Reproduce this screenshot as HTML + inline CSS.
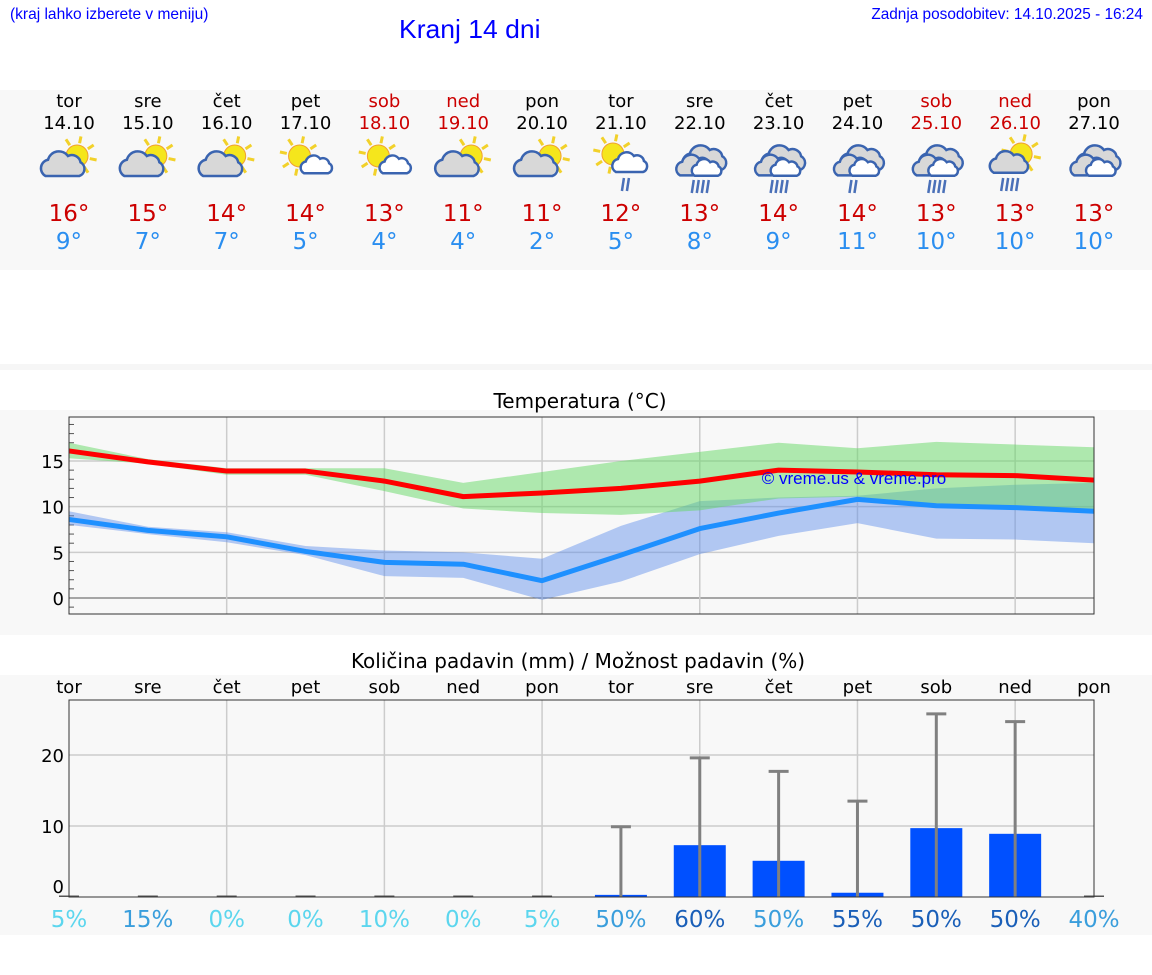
<!DOCTYPE html>
<html><head><meta charset="utf-8">
<style>
body{margin:0;width:1152px;height:975px;background:#fff;overflow:hidden;position:relative;font-family:"DejaVu Sans",sans-serif}
.band{position:absolute;left:0;width:1152px;background:#f8f8f8}
.hdr{font-family:"Liberation Sans",sans-serif;color:#0000ff;position:absolute;white-space:nowrap}
</style></head>
<body>
<div class="hdr" style="left:10px;top:6px;font-size:16px;transform:scaleX(0.97);transform-origin:left">(kraj lahko izberete v meniju)</div>
<div class="hdr" style="left:399px;top:14px;font-size:26px;transform:scaleX(1.02);transform-origin:left">Kranj 14 dni</div>
<div class="hdr" style="right:9px;top:6px;font-size:16px;transform:scaleX(0.96);transform-origin:right">Zadnja posodobitev: 14.10.2025 - 16:24</div>
<div class="band" style="top:90px;height:180px"></div>
<div class="band" style="top:364px;height:6px;background:#f6f6f6"></div>
<div class="band" style="top:410px;height:225px"></div>
<div class="band" style="top:675px;height:260px"></div>
<svg id="svg" width="1152" height="975" style="position:absolute;left:0;top:0"></svg>
<script>
const days=["tor","sre","čet","pet","sob","ned","pon","tor","sre","čet","pet","sob","ned","pon"];
const dates=["14.10","15.10","16.10","17.10","18.10","19.10","20.10","21.10","22.10","23.10","24.10","25.10","26.10","27.10"];
const weekend=[0,0,0,0,1,1,0,0,0,0,0,1,1,0];
const icons=["pc","pc","pc","ms","ms","pc","pc","msr","cr","cr","cr2","cr","pcr","c"];
const maxT=[16,15,14,14,13,11,11,12,13,14,14,13,13,13];
const minT=[9,7,7,5,4,4,2,5,8,9,11,10,10,10];
const maxLine=[16.1,14.9,13.9,13.9,12.8,11.1,11.5,12.0,12.8,14.0,13.8,13.5,13.4,12.9];
const maxHi=[17,15.2,14.2,14.2,14.2,12.6,13.8,15.0,16.0,17.0,16.4,17.1,16.8,16.5];
const maxLo=[15.3,14.7,13.5,13.5,11.7,9.8,9.3,9.1,9.6,10.9,11.1,10.0,9.8,9.6];
const minLine=[8.6,7.4,6.7,5.1,3.9,3.7,1.9,4.7,7.6,9.3,10.8,10.1,9.9,9.5];
const minHi=[9.5,7.8,7.2,5.7,5.2,5.0,4.3,7.9,10.6,11.0,11.2,12.0,12.4,12.6];
const minLo=[8.0,7.0,6.1,4.7,2.4,2.2,-0.2,1.8,4.8,6.8,8.2,6.5,6.4,6.0];
const tempTicks=[0,5,10,15];
const precip=[0,0,0,0,0,0,0,0.3,7.3,5.1,0.6,9.7,8.9,0];
const precipMax=[0,0,0,0,0,0,0,9.9,19.6,17.7,13.5,25.8,24.7,0];
const chance=[5,15,0,0,10,0,5,50,60,50,55,50,50,40];
const chanceShade=[0,1,0,0,0,0,0,1,2,1,2,2,2,1];
const precipTicks=[0,10,20];

const NS="http://www.w3.org/2000/svg";
const svg=document.getElementById('svg');
function mk(tag,attrs,parent){const e=document.createElementNS(NS,tag);for(const k in attrs)e.setAttribute(k,attrs[k]);(parent||svg).appendChild(e);return e;}
function txt(x,y,s,size,fill,anchor,parent){const t=mk('text',{x:x,y:y,'font-size':size,fill:fill,'text-anchor':anchor||'middle','font-family':'DejaVu Sans, sans-serif'},parent);t.textContent=s;return t;}
const L=69,R=1094,N=days.length;
const xs=i=>L+i*(R-L)/(N-1);
const tY=v=>598-v*(598-461)/15;
const pY=v=>897-v*(897-755)/20;

function sun(g,cx,cy,r){
  for(let k=0;k<8;k++){const a=k*Math.PI/4+0.2;mk('line',{x1:cx+Math.cos(a)*(r+2),y1:cy+Math.sin(a)*(r+2),x2:cx+Math.cos(a)*(r+9),y2:cy+Math.sin(a)*(r+9),stroke:'#f2d12a','stroke-width':3},g);}
  mk('circle',{cx:cx,cy:cy,r:r,fill:'#f5e61c',stroke:'#f0a030','stroke-width':1},g);
}
function cloud(g,cx,cy,s,fill){
  const d=`M${cx-14*s},${cy+8*s} a${7*s},${7*s} 0 0 1 ${2*s},${-13*s} a${9*s},${9*s} 0 0 1 ${16*s},${-3*s} a${7*s},${7*s} 0 0 1 ${10*s},${5*s} a${6*s},${6*s} 0 0 1 ${-1*s},${11*s} z`;
  mk('path',{d:d,fill:fill,stroke:'#3a64b0','stroke-width':2.5},g);
}
function rain(g,cx,cy,n){for(let k=0;k<n;k++){const x=cx-7+k*5;mk('line',{x1:x+1,y1:cy,x2:x-1,y2:cy+13,stroke:'#4a70b8','stroke-width':2.5},g);}}
for(let i=0;i<N;i++){
  const x=xs(i);
  const c=weekend[i]?'#cc0000':'#000';
  const dn=txt(x,107,days[i],18,c);
  
  
  const dd=txt(x,129,dates[i],18,c);
  
  
  const g=mk('g',{});
  
  
  const ic=icons[i],cy=160;
  if(ic=='pc'){sun(g,x+8,cy-4,11);cloud(g,x-6,cy+6,1.25,'#d8d8d8');}
  else if(ic=='ms'){sun(g,x-6,cy-4,11);cloud(g,x+11,cy+6,0.9,'#fff');}
  else if(ic=='msr'){sun(g,x-8,cy-6,11);cloud(g,x+9,cy+4,1,'#fff');rain(g,x+9,cy+18,2);}
  else if(ic=='cr'||ic=='cr2'||ic=='c'){cloud(g,x+5,cy,1.25,'#d8d8d8');cloud(g,x-5,cy+7,1.05,'#d8d8d8');cloud(g,x+7,cy+9,0.85,'#fff');if(ic!='c')rain(g,x,cy+20,ic=='cr2'?2:4);}
  else if(ic=='pcr'){sun(g,x+6,cy-6,11);cloud(g,x-6,cy+4,1.1,'#d8d8d8');rain(g,x-6,cy+18,4);}
  const mx=txt(x,221,maxT[i]+'°',23,'#cc0000');
  
  
  const mn=txt(x,249,minT[i]+'°',23,'#2a8ef0');
  
  
}

const tt=txt(580,408,'Temperatura (°C)',20,'#000');


mk('rect',{x:L,y:417,width:R-L,height:197,fill:'#f8f8f8'});
for(const v of tempTicks){mk('line',{x1:L,x2:R,y1:tY(v),y2:tY(v),stroke:v==0?'#555':'#ccc','stroke-width':v==0?1:1.5});
  const t=txt(L-5,tY(v)+7,String(v),18,'#000','end');
  
  }
for(let v=-1;v<=19;v++){if(v%5)mk('line',{x1:L,x2:L+5,y1:tY(v),y2:tY(v),stroke:'#555','stroke-width':1});}
for(let i=2;i<N;i+=2)mk('line',{x1:xs(i),x2:xs(i),y1:417,y2:614,stroke:'#ccc','stroke-width':1.5});
function band(hi,lo,fill,name){let d='M';hi.forEach((v,i)=>d+=xs(i)+','+tY(v)+' L');for(let i=lo.length-1;i>=0;i--)d+=xs(i)+','+tY(lo[i])+(i?' L':' Z');
  const p=mk('path',{d:d,fill:fill});}
function line(a,col,name){const p=mk('polyline',{points:a.map((v,i)=>xs(i)+','+tY(v)).join(' '),fill:'none',stroke:col,'stroke-width':5,'stroke-linejoin':'round'});}
band(minHi,minLo,'rgba(90,140,235,0.45)','min-temp-range');
band(maxHi,maxLo,'rgba(100,215,100,0.5)','max-temp-range');
line(maxLine,'#ff0000','max-temp-line');
line(minLine,'#1e90ff','min-temp-line');
const wm=mk('text',{x:854,y:484,'font-size':17,fill:'#0000ff','text-anchor':'middle','font-family':'Liberation Sans, sans-serif'});wm.textContent='© vreme.us & vreme.pro';


mk('rect',{x:L,y:417,width:R-L,height:197,fill:'none',stroke:'#333','stroke-width':1});

const pt=txt(578,668,'Količina padavin (mm) / Možnost padavin (%)',20,'#000');


for(let i=0;i<N;i++){const t=txt(xs(i),693,days[i],18,'#000');}
mk('rect',{x:L,y:700,width:R-L,height:197,fill:'#f8f8f8'});
for(const v of precipTicks){if(v)mk('line',{x1:L,x2:R,y1:pY(v),y2:pY(v),stroke:'#ccc','stroke-width':1.5});
  const t=txt(L-5,pY(v)+(v?7:-4),String(v),18,'#000','end');}
for(let i=2;i<N;i+=2)mk('line',{x1:xs(i),x2:xs(i),y1:700,y2:897,stroke:'#ccc','stroke-width':1.5});
const shades=['#5cd6ee','#3a9edc','#1a5fb8'];
for(let i=0;i<N;i++){
  const x=xs(i),bw=52;
  const h=Math.max(pY(0)-pY(precip[i]),1.5);
  const b=mk('rect',{x:x-bw/2,y:pY(0)-h,width:bw,height:h,fill:precip[i]>0?'#0050ff':'#555'});
  if(precip[i]<=0){b.setAttribute('x',x-10);b.setAttribute('width',20);}
  
  
  if(precipMax[i]>0){
    const e=mk('g',{stroke:'#808080','stroke-width':3});
    
    
    mk('line',{x1:x,x2:x,y1:pY(0),y2:pY(precipMax[i])},e);
    mk('line',{x1:x-10,x2:x+10,y1:pY(precipMax[i]),y2:pY(precipMax[i])},e);
  }
  const c=txt(x,927,chance[i]+'%',23,shades[chanceShade[i]]);
  
  
}
mk('rect',{x:L,y:700,width:R-L,height:197,fill:'none',stroke:'#333','stroke-width':1});
</script>
</body></html>
